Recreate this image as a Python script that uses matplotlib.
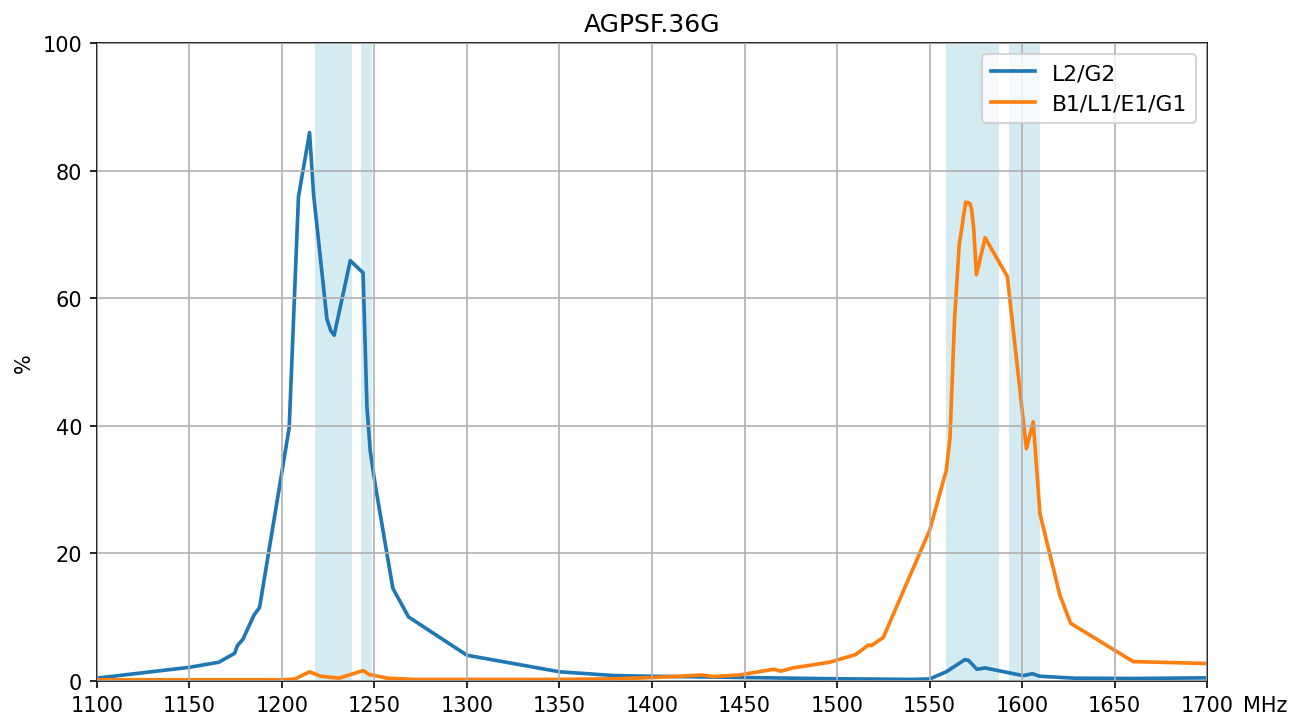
import matplotlib
matplotlib.use("Agg")
import matplotlib.pyplot as plt

title = "AGPSF.36G"
series_names = ["L2/G2", "B1/L1/E1/G1"]

l2_freq = [1100, 1150, 1166, 1174.5, 1176, 1179, 1185, 1188, 1204, 1209, 1215,
           1217.2, 1224.4, 1226.5, 1228.3, 1237, 1243.9, 1246, 1247.8, 1250.5,
           1260, 1268.5, 1300, 1350, 1380, 1400, 1450, 1500, 1540, 1550, 1559,
           1569, 1571, 1575.5, 1580, 1600.5, 1605.5, 1609.5, 1628, 1660, 1700]
l2_eff = [0.4, 2.1, 2.9, 4.3, 5.5, 6.5, 10.3, 11.5, 39.7, 75.9, 86.0,
          76.2, 56.7, 54.9, 54.2, 65.9, 64.0, 43.0, 36.0, 30.7,
          14.5, 10.0, 4.0, 1.4, 0.8, 0.7, 0.5, 0.3, 0.2, 0.27, 1.4,
          3.3, 3.2, 1.8, 2.0, 0.8, 1.1, 0.7, 0.4, 0.35, 0.45]

l1_freq = [1100, 1200, 1207, 1215, 1221, 1231, 1244, 1247, 1257, 1271, 1300,
           1350, 1380, 1400, 1415, 1427, 1433, 1447, 1466, 1469.5, 1476, 1496,
           1510, 1517, 1518.5, 1525, 1550, 1559, 1561, 1563.5, 1566, 1569.5,
           1571.7, 1572.6, 1573.8, 1575.3, 1580, 1592, 1602.3, 1606, 1609.6,
           1620.4, 1626.2, 1660, 1700]
l1_eff = [0.15, 0.15, 0.25, 1.4, 0.7, 0.4, 1.6, 1.0, 0.4, 0.2, 0.2,
          0.2, 0.3, 0.5, 0.7, 0.9, 0.65, 0.9, 1.8, 1.5, 2.0, 2.9,
          4.1, 5.6, 5.5, 6.8, 23.6, 33.0, 38.0, 56.9, 68.4, 75.1,
          74.9, 74.1, 71.0, 63.7, 69.5, 63.4, 36.4, 40.6, 26.2,
          13.4, 9.0, 3.0, 2.7]

bands = [(1217.7, 1237.7), (1243.0, 1249.0), (1559.0, 1587.4), (1593.1, 1609.9)]

xticks = [1100, 1150, 1200, 1250, 1300, 1350, 1400, 1450, 1500, 1550, 1600, 1650, 1700]
yticks = [0, 20, 40, 60, 80, 100]

fig = plt.figure(figsize=(8.7, 4.8133), dpi=150)
ax = fig.add_axes([0.0741, 0.0558, 0.8510, 0.8828])

for lo, hi in bands:
    ax.axvspan(lo, hi, color="#ADD8E6", alpha=0.5, lw=0)

ax.plot(l2_freq, l2_eff, color="#1f77b4", lw=1.75, label=series_names[0])
ax.plot(l1_freq, l1_eff, color="#ff7f0e", lw=1.75, label=series_names[1])

ax.set_xlim(1100, 1700)
ax.set_ylim(0, 100)
ax.set_xticks(xticks)
ax.set_xticklabels([str(t) for t in xticks])
ax.set_yticks(yticks)
ax.grid(True)
ax.set_axisbelow(False)
ax.set_title(title)
ax.set_ylabel("%")
ax.annotate("MHz", xy=(1700, 0), xycoords="data", xytext=(17.3, -7),
            textcoords="offset points", ha="left", va="top", fontsize=10,
            annotation_clip=False)
ax.legend(loc="upper right", fontsize=10.5)

fig.savefig("out.png", dpi=150)
